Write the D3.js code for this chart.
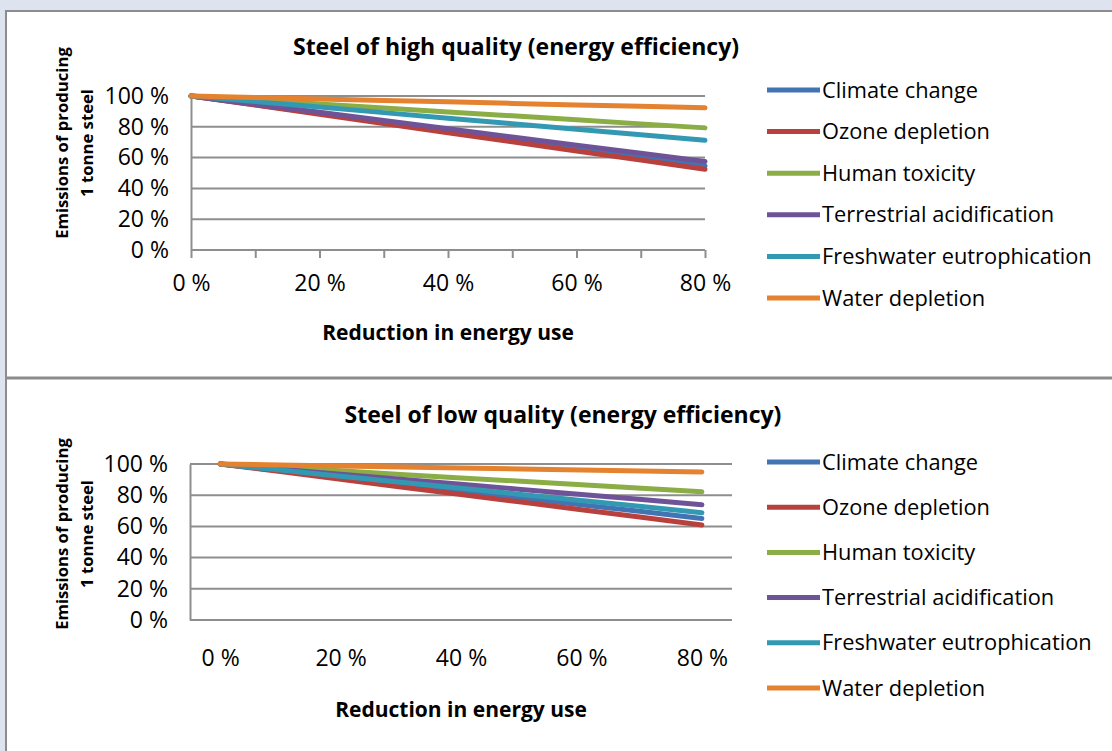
<!DOCTYPE html>
<html>
<head>
<meta charset="utf-8">
<script src="https://cdn.jsdelivr.net/npm/d3@7"></script>
<style>
  body { margin: 0; background: #dde3ef; }
  svg { display: block; font-family: "Open Sans", sans-serif; }
</style>
</head>
<body>
<div id="chart-area"></div>
<script>
// categories (reduction in energy use)
var reduction = ["0 %", "10 %", "20 %", "30 %", "40 %", "50 %", "60 %", "70 %", "80 %"];
var shownTicks = ["0 %", "20 %", "40 %", "60 %", "80 %"];
var yTicks = [0, 20, 40, 60, 80, 100];

var seriesNames = ["Climate change", "Ozone depletion", "Human toxicity",
                   "Terrestrial acidification", "Freshwater eutrophication", "Water depletion"];
var seriesColors = ["#4274b4", "#b9413d", "#8bad46", "#6e5398", "#3399b3", "#e5822f"];

// steel of high quality, % of emissions
var highClimate    = [100, 94.3, 88.6, 82.9, 77.2, 71.6, 65.9, 60.2, 54.5];
var highOzone      = [100, 94.1, 88.1, 82.2, 76.2, 70.3, 64.3, 58.4, 52.4];
var highToxicity   = [100, 97.4, 94.8, 92.2, 89.6, 87.1, 84.5, 81.9, 79.3];
var highAcid       = [100, 94.7, 89.4, 84.1, 78.8, 73.4, 68.1, 62.8, 57.5];
var highEutro      = [100, 96.4, 92.8, 89.2, 85.6, 82.0, 78.4, 74.8, 71.2];
var highWater      = [100, 99.0, 98.1, 97.1, 96.2, 95.2, 94.2, 93.3, 92.3];

// steel of low quality
var lowClimate     = [100, 95.6, 91.3, 86.9, 82.6, 78.2, 73.8, 69.5, 65.1];
var lowOzone       = [100, 95.1, 90.2, 85.3, 80.4, 75.6, 70.7, 65.8, 60.9];
var lowToxicity    = [100, 97.8, 95.6, 93.3, 91.1, 88.9, 86.7, 84.4, 82.2];
var lowAcid        = [100, 96.7, 93.5, 90.2, 87.0, 83.7, 80.4, 77.2, 73.9];
var lowEutro       = [100, 96.1, 92.2, 88.3, 84.4, 80.5, 76.6, 72.7, 68.8];
var lowWater       = [100, 99.4, 98.7, 98.1, 97.4, 96.8, 96.2, 95.5, 94.9];

var W = 1112, H = 751;
var gridColor = "#8e8e8e";

var svg = d3.select("#chart-area").append("svg")
	.attr("width", W)
	.attr("height", H);

svg.append("rect").attr("width", W).attr("height", H).attr("fill", "#dde3ef");

// panels
svg.append("rect").attr("x", 6).attr("y", 11).attr("width", W).attr("height", H)
	.attr("fill", "#fff").attr("stroke", "#8c8c8c").attr("stroke-width", 2);
svg.append("line").attr("x1", 6).attr("x2", W).attr("y1", 378).attr("y2", 378)
	.attr("stroke", "#8c8c8c").attr("stroke-width", 3);

function drawPanel(cfg) {
	var g = svg.append("g");

	var x = d3.scalePoint()
		.domain(reduction)
		.range([cfg.left, cfg.right])
		.padding(cfg.between ? 0.5 : 0);

	var y = d3.scaleLinear()
		.domain([0, 100])
		.range([cfg.bottom, cfg.top]);

	// gridlines
	g.append("g").selectAll("line")
		.data(yTicks)
		.enter().append("line")
			.attr("x1", cfg.left)
			.attr("x2", cfg.right)
			.attr("y1", function(d) { return y(d); })
			.attr("y2", function(d) { return y(d); })
			.attr("stroke", gridColor)
			.attr("stroke-width", 2);

	// y axis
	var yAxis = g.append("g")
		.attr("transform", "translate(" + cfg.left + ",0)")
		.call(d3.axisLeft(y).tickValues(yTicks).tickSize(0).tickPadding(22)
			.tickFormat(function(d) { return d + " %"; }));
	yAxis.select(".domain").attr("stroke", gridColor).attr("stroke-width", 2);
	yAxis.selectAll("text").attr("font-size", "23px").attr("fill", "#000")
		.attr("font-family", "Open Sans");

	// x axis
	var xAxis = g.append("g")
		.attr("transform", "translate(0," + cfg.bottom + ")")
		.call(d3.axisBottom(x).tickSizeOuter(0).tickSizeInner(cfg.between ? 0 : 8)
			.tickPadding(cfg.between ? 30 : 17)
			.tickFormat(function(d) { return shownTicks.indexOf(d) >= 0 ? d : ""; }));
	xAxis.select(".domain").attr("stroke", gridColor).attr("stroke-width", 2)
		.attr("d", "M" + cfg.left + ",0H" + cfg.right);
	xAxis.selectAll(".tick line").attr("stroke", gridColor).attr("stroke-width", 2);
	xAxis.selectAll("text").attr("font-size", "23px").attr("fill", "#000")
		.attr("font-family", "Open Sans");

	var line = d3.line()
		.x(function(d, i) { return x(reduction[i]); })
		.y(function(d) { return y(d); });

	cfg.series.forEach(function(s, i) {
		g.append("path")
			.attr("fill", "none")
			.attr("stroke", seriesColors[i])
			.attr("stroke-width", 5)
			.attr("stroke-linecap", "round")
			.attr("stroke-linejoin", "round")
			.attr("d", line(s));
	});

	// title
	g.append("text")
		.attr("x", cfg.titleX)
		.attr("y", cfg.titleY)
		.attr("text-anchor", "middle")
		.attr("font-size", "23px")
		.attr("font-weight", "bold")
		.text(cfg.title);

	// axis titles
	g.append("text")
		.attr("x", cfg.xTitleX)
		.attr("y", cfg.xTitleY)
		.attr("text-anchor", "middle")
		.attr("font-size", "21px")
		.attr("font-weight", "bold")
		.text("Reduction in energy use");

	var yt = g.append("text")
		.attr("transform", "translate(" + 68 + "," + cfg.yTitleY + ") rotate(-90)")
		.attr("text-anchor", "middle")
		.attr("font-size", "16.7px")
		.attr("font-weight", "bold");
	yt.append("tspan").attr("x", 0).attr("dy", 0).text("Emissions of producing");
	yt.append("tspan").attr("x", 0).attr("dy", 25).text("1 tonne steel");

	// legend
	var leg = g.append("g").selectAll("g")
		.data(seriesNames)
		.enter().append("g")
			.attr("transform", function(d, i) {
				return "translate(767," + (cfg.legendY + i * cfg.legendStep) + ")";
			});
	leg.append("line")
		.attr("x1", 0).attr("x2", 53)
		.attr("stroke", function(d, i) { return seriesColors[i]; })
		.attr("stroke-width", 5);
	leg.append("text")
		.attr("x", 55)
		.attr("dy", "0.35em")
		.attr("font-size", "21.8px")
		.text(function(d) { return d; });
}

drawPanel({
	title: "Steel of high quality (energy efficiency)",
	titleX: 516, titleY: 55,
	left: 191, right: 705, top: 96, bottom: 250,
	between: false,
	xTitleX: 448, xTitleY: 340,
	yTitleY: 143,
	legendY: 90, legendStep: 41.6,
	series: [highClimate, highOzone, highToxicity, highAcid, highEutro, highWater]
});

drawPanel({
	title: "Steel of low quality (energy efficiency)",
	titleX: 563, titleY: 423,
	left: 190, right: 732, top: 464, bottom: 620,
	between: true,
	xTitleX: 461, xTitleY: 717,
	yTitleY: 534,
	legendY: 462, legendStep: 45.2,
	series: [lowClimate, lowOzone, lowToxicity, lowAcid, lowEutro, lowWater]
});
</script>
</body>
</html>
